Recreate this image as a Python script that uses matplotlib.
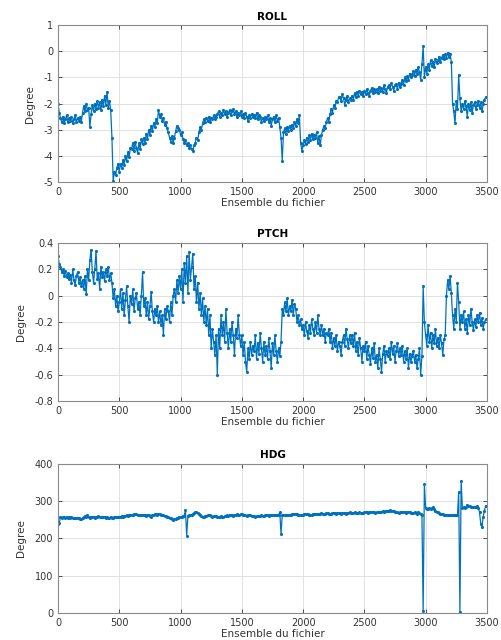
import numpy as np
import matplotlib as mpl
mpl.use("Agg")
import matplotlib.pyplot as plt
import matplotlib.ticker as mticker

# sample index (every 10th ensemble)
ens = np.arange(0, 3500, 10)

roll = [
    -2.0, -2.35, -2.55, -2.7, -2.5, -2.75, -2.6, -2.45, -2.7, -2.55,
    -2.65, -2.5, -2.75, -2.6, -2.45, -2.7, -2.55, -2.65, -2.5, -2.7,
    -2.35, -2.1, -2.3, -2.0, -2.25, -2.15, -2.9, -2.4, -2.05, -2.3,
    -2.0, -2.2, -1.9, -2.15, -1.95, -2.25, -1.85, -2.1, -1.7, -2.05,
    -1.55, -2.15, -1.9, -2.25, -3.3, -4.95, -4.6, -4.75, -4.45, -4.3,
    -4.6, -4.3, -4.45, -4.15, -4.35, -4.0, -4.2, -3.85, -4.05, -3.7,
    -3.75, -3.5, -3.8, -3.45, -3.7, -3.9, -3.5, -3.75, -3.35, -3.55,
    -3.3, -3.5, -3.15, -3.35, -3.0, -3.2, -2.85, -3.05, -2.75, -2.9,
    -2.6, -2.75, -2.25, -2.5, -2.4, -2.65, -2.55, -2.8, -2.7, -2.95,
    -3.1, -3.3, -3.45, -3.25, -3.5, -3.3, -3.05, -2.85, -2.95, -3.0,
    -3.2, -3.1, -3.35, -3.5, -3.4, -3.6, -3.5, -3.7, -3.6, -3.75,
    -3.8, -3.6, -3.5, -3.3, -3.4, -3.1, -2.9, -3.0, -2.75, -2.6,
    -2.7, -2.55, -2.65, -2.5, -2.7, -2.55, -2.6, -2.45, -2.6, -2.5,
    -2.4, -2.3, -2.5, -2.35, -2.45, -2.25, -2.4, -2.3, -2.5, -2.35,
    -2.25, -2.45, -2.3, -2.2, -2.4, -2.3, -2.5, -2.35, -2.45, -2.3,
    -2.5, -2.4, -2.55, -2.35, -2.5, -2.65, -2.45, -2.55, -2.4, -2.5,
    -2.45, -2.55, -2.35, -2.6, -2.45, -2.5, -2.7, -2.55, -2.65, -2.5,
    -2.6, -2.45, -2.7, -2.55, -2.85, -2.6, -2.5, -2.7, -2.45, -2.65,
    -2.55, -2.9, -3.3, -4.2, -3.1, -2.95, -3.15, -2.9, -3.05, -2.85,
    -3.0, -2.8, -2.95, -2.7, -2.85, -2.6, -2.75, -2.45, -3.5, -3.8,
    -3.6, -3.4, -3.55, -3.3, -3.45, -3.2, -3.4, -3.15, -3.35, -3.2,
    -3.3, -3.1, -3.5, -3.25, -3.6, -3.2, -3.0, -2.85, -2.95, -2.7,
    -2.55, -2.7, -2.4, -2.2, -2.35, -2.05, -2.15, -1.9, -1.95, -1.75,
    -1.75, -1.9, -1.65, -1.8, -2.05, -1.85, -1.7, -1.95, -1.8, -1.85,
    -1.7, -1.85, -1.6, -1.75, -1.55, -1.7, -1.5, -1.65, -1.55, -1.7,
    -1.5, -1.65, -1.45, -1.6, -1.7, -1.5, -1.4, -1.6, -1.45, -1.55,
    -1.45, -1.6, -1.35, -1.5, -1.4, -1.55, -1.3, -1.45, -1.6, -1.35,
    -1.3, -1.45, -1.2, -1.35, -1.5, -1.3, -1.25, -1.45, -1.2, -1.35,
    -1.25, -1.1, -1.3, -1.0, -1.15, -0.95, -1.1, -0.85, -1.0, -0.9,
    -0.75, -0.95, -0.7, -0.85, -0.6, -0.8, -1.1, -0.5, 0.2, -1.0,
    -0.6, -0.85, -0.5, -0.7, -0.35, -0.55, -0.4, -0.6, -0.3, -0.45,
    -0.35, -0.2, -0.4, -0.25, -0.15, -0.3, -0.1, -0.25, -0.05, -0.2,
    -0.1, -0.4, -2.0, -2.3, -2.75, -1.9, -2.2, -0.9, -1.8, -2.3,
    -2.0, -2.2, -1.9, -2.1, -2.5, -2.0, -2.25, -1.95, -2.35, -2.05,
    -1.95, -2.2, -2.05, -1.9, -2.15, -1.95, -2.3, -2.0, -1.85, -1.75,
]

ptch = [
    0.3, 0.24, 0.22, 0.18, 0.2, 0.15, 0.19, 0.14, 0.17, 0.13,
    0.16, 0.1, 0.2, 0.12, 0.08, 0.15, 0.18, 0.1, 0.14, 0.07,
    0.12, 0.05, 0.15, 0.01, 0.2, 0.12, 0.27, 0.35, 0.18, 0.1,
    0.2, 0.34, 0.13, 0.17, 0.05, 0.22, 0.14, 0.18, 0.11, 0.2,
    0.15, 0.22, 0.12, 0.17, 0.1, -0.02, 0.05, -0.08, 0.0, -0.12,
    -0.05, 0.05, -0.1, 0.02, -0.15, -0.03, 0.07, -0.08, -0.2, 0.0,
    -0.06, 0.05, -0.12, -0.02, 0.02, -0.1, -0.05, -0.15, 0.0, 0.18,
    -0.08, -0.02, -0.15, -0.05, -0.18, -0.08, 0.03, -0.12, -0.2, -0.1,
    -0.15, -0.08, -0.2, -0.12, -0.22, -0.15, -0.3, -0.1, -0.18, -0.08,
    -0.12, -0.2, -0.05, -0.15, 0.0, 0.05, -0.05, 0.12, 0.02, 0.15,
    0.05, 0.2, -0.05, 0.25, 0.1, 0.3, 0.02, 0.33, 0.12, 0.22,
    0.32, 0.05, 0.15, -0.05, 0.1, -0.1, 0.02, -0.15, -0.02, -0.2,
    -0.08, -0.22, -0.1, -0.3, -0.15, -0.4, -0.25, -0.35, -0.45, -0.3,
    -0.6, -0.25, -0.4, -0.15, -0.3, -0.2, -0.35, -0.1, -0.28, -0.4,
    -0.25, -0.35, -0.2, -0.3, -0.45, -0.25, -0.32, -0.15, -0.3, -0.38,
    -0.3, -0.45, -0.35, -0.5, -0.58, -0.4, -0.48, -0.35, -0.45, -0.38,
    -0.42, -0.3, -0.48, -0.36, -0.44, -0.28, -0.4, -0.5, -0.35, -0.45,
    -0.38, -0.48, -0.32, -0.42, -0.55, -0.36, -0.45, -0.3, -0.42, -0.5,
    -0.4, -0.46, -0.35, -0.1, -0.15, -0.05, -0.12, -0.02, -0.15, -0.08,
    -0.12, -0.03, -0.15, -0.06, -0.1, -0.2, -0.15, -0.22, -0.18, -0.25,
    -0.22, -0.3, -0.2, -0.27, -0.32, -0.22, -0.28, -0.18, -0.25, -0.3,
    -0.2, -0.28, -0.15, -0.25, -0.3, -0.22, -0.3, -0.25, -0.35, -0.28,
    -0.3, -0.25, -0.35, -0.28, -0.4, -0.32, -0.38, -0.3, -0.42, -0.35,
    -0.38, -0.45, -0.35, -0.3, -0.38, -0.25, -0.33, -0.4, -0.3, -0.36,
    -0.3, -0.38, -0.28, -0.42, -0.35, -0.45, -0.32, -0.4, -0.5, -0.38,
    -0.42, -0.35, -0.48, -0.38, -0.45, -0.52, -0.4, -0.47, -0.36, -0.5,
    -0.45, -0.55, -0.4, -0.48, -0.58, -0.44, -0.38, -0.5, -0.42, -0.46,
    -0.4, -0.48, -0.35, -0.44, -0.38, -0.5, -0.42, -0.36, -0.46, -0.4,
    -0.45, -0.38, -0.5, -0.42, -0.48, -0.4, -0.55, -0.44, -0.5, -0.46,
    -0.42, -0.5, -0.45, -0.55, -0.48, -0.4, -0.6, -0.46, 0.07, -0.2,
    -0.3, -0.38, -0.22, -0.35, -0.28, -0.4, -0.3, -0.36, -0.25, -0.38,
    -0.32, -0.4, -0.3, -0.36, -0.45, -0.33, -0.3, 0.0, 0.12, 0.05,
    0.15, 0.02, -0.15, -0.25, -0.1, -0.2, 0.1, -0.05, -0.25, -0.15,
    -0.2, -0.12, -0.25, -0.18, -0.28, -0.15, -0.22, -0.1, -0.2, -0.26,
    -0.18, -0.24, -0.15, -0.2, -0.13, -0.22, -0.17, -0.25, -0.2, -0.18,
]

hdg = [
    240, 242, 258, 256, 258, 257, 255, 258, 256, 257,
    255, 257, 256, 254, 256, 255, 254, 256, 253, 251,
    255, 258, 260, 258, 262, 257, 255, 258, 259, 257,
    256, 258, 259, 260, 258, 257, 259, 258, 257, 256,
    257, 255, 256, 258, 255, 256, 257, 258, 259, 258,
    259, 258, 260, 259, 261, 260, 262, 261, 262, 263,
    262, 264, 265, 266, 265, 264, 263, 262, 263, 264,
    262, 263, 261, 263, 262, 260, 258, 262, 264, 265,
    265, 264, 266, 265, 264, 263, 262, 261, 260, 259,
    258, 256, 254, 252, 250, 251, 253, 255, 256, 258,
    257, 259, 260, 261, 277, 208, 260, 262, 263, 264,
    266, 268, 270, 271, 269, 266, 263, 260, 258, 259,
    260, 261, 262, 263, 262, 260, 259, 260, 261, 260,
    259, 258, 259, 260, 259, 258, 260, 261, 262, 261,
    263, 264, 262, 261, 262, 263, 265, 264, 263, 265,
    265, 264, 263, 262, 261, 262, 263, 262, 261, 260,
    260, 259, 260, 261, 260, 261, 262, 261, 260, 262,
    262, 263, 261, 262, 263, 264, 263, 262, 264, 263,
    264, 270, 212, 264, 263, 262, 263, 264, 264, 263,
    264, 265, 266, 267, 266, 265, 264, 263, 262, 263,
    264, 266, 267, 266, 265, 264, 263, 264, 265, 266,
    267, 266, 265, 266, 267, 268, 267, 266, 267, 268,
    268, 267, 266, 267, 268, 269, 268, 267, 268, 269,
    268, 267, 268, 269, 268, 267, 268, 269, 270, 269,
    268, 269, 270, 269, 268, 269, 270, 269, 268, 269,
    270, 271, 270, 269, 270, 271, 270, 271, 270, 269,
    270, 271, 272, 271, 272, 273, 272, 273, 274, 275,
    275, 276, 275, 274, 273, 272, 271, 270, 269, 270,
    271, 270, 271, 270, 269, 270, 271, 270, 269, 268,
    269, 270, 268, 267, 270, 268, 266, 262, 5, 345,
    282, 278, 280, 283, 279, 281, 284, 280, 275, 272,
    270, 268, 267, 266, 265, 264, 262, 263, 264, 262,
    263, 264, 262, 263, 262, 264, 263, 325, 2, 355,
    283, 284, 282, 285, 290, 288, 286, 284, 285, 284,
    285, 284, 286, 283, 270, 240, 232, 258, 275, 288,
]

titles = ['ROLL', 'PTCH', 'HDG']
series = [roll, ptch, hdg]
ylims = [(-5, 1), (-0.8, 0.4), (0, 400)]
ysteps = [1, 0.2, 100]

plt.rcParams['font.family'] = 'DejaVu Sans'
plt.rcParams['axes.unicode_minus'] = False

fig = plt.figure(figsize=(5.01, 6.4), dpi=100)
# axes boxes [left, bottom, width, height] in figure fraction
boxes = [[0.1158, 0.7156, 0.856, 0.245],
         [0.1158, 0.3734, 0.856, 0.2469],
         [0.1158, 0.0422, 0.856, 0.2328]]

for i in range(3):
    ax = fig.add_axes(boxes[i])
    ax.plot(ens, series[i], color='#0072BD', linewidth=0.9, marker='.',
            markersize=4.5, markeredgewidth=0)
    ax.set_xlim(0, 3500)
    ax.set_ylim(ylims[i])
    ax.xaxis.set_major_locator(mticker.MultipleLocator(500))
    ax.yaxis.set_major_locator(mticker.MultipleLocator(ysteps[i]))
    ax.yaxis.set_major_formatter(mticker.FuncFormatter(lambda v, p: '%g' % round(v, 3)))
    ax.grid(True, color='#dcdcdc', linewidth=0.6)
    ax.set_axisbelow(True)
    for s in ax.spines.values():
        s.set_color('#8a8a8a')
        s.set_linewidth(0.8)
    ax.tick_params(labelsize=7, colors='#333333', length=3, width=0.6, direction='in',
                   top=True, right=True)
    ax.set_title(titles[i], fontsize=7.5, fontweight='bold', pad=4)
    ax.set_xlabel('Ensemble du fichier', fontsize=7.5, color='#333333', labelpad=1)
    ax.set_ylabel('Degree', fontsize=7.5, color='#333333', labelpad=6)

fig.savefig('out.png', dpi=100)
